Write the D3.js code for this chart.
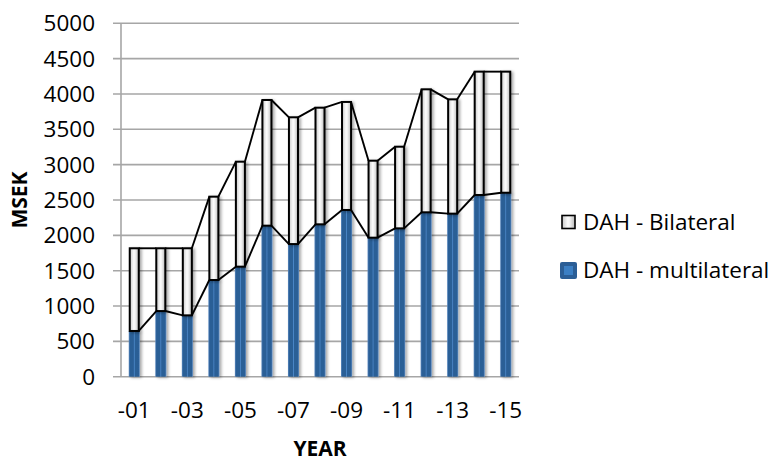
<!DOCTYPE html>
<html><head><meta charset="utf-8">
<script src="https://cdn.jsdelivr.net/npm/d3@7"></script>
<style>
html,body{margin:0;padding:0;background:#fff;}
svg{display:block;font-family:"Open Sans",sans-serif;}
</style></head>
<body>
<svg id="c" width="778" height="461"></svg>
<script>
const years = ["2001","2002","2003","2004","2005","2006","2007","2008","2009","2010","2011","2012","2013","2014","2015"];
const tickLabels = ["-01","","-03","","-05","","-07","","-09","","-11","","-13","","-15"];
const multilateral = [647, 929, 868, 1368, 1557, 2137, 1877, 2156, 2359, 1967, 2099, 2326, 2307, 2571, 2603];
const bilateral = [1170, 888, 949, 1179, 1485, 1778, 1793, 1650, 1528, 1089, 1155, 1740, 1617, 1745, 1713];
const yTicks = [0,500,1000,1500,2000,2500,3000,3500,4000,4500,5000];
const seriesNames = ["DAH - Bilateral","DAH - multilateral"];

const svg = d3.select("#c");
const pLeft = 121, pRight = 519, pTop = 23.3, pBottom = 376.7;
const x = d3.scaleBand().domain(years).range([pLeft, pRight]).paddingInner(0).paddingOuter(0);
const y = d3.scaleLinear().domain([0, 5000]).range([pBottom, pTop]);
const bw = x.bandwidth() * 0.34;

const defs = svg.append("defs");
const gB = defs.append("linearGradient").attr("id","gB").attr("x1","0").attr("x2","1").attr("y1","0").attr("y2","0");
[["0","#c8c8c8"],["0.45","#fbfbfb"],["0.6","#f2f2f2"],["1","#b8b8b8"]].forEach(s=>gB.append("stop").attr("offset",s[0]).attr("stop-color",s[1]));
const gM = defs.append("linearGradient").attr("id","gM").attr("x1","0").attr("x2","1").attr("y1","0").attr("y2","0");
[["0","#5d8cc2"],["0.12","#2b5e96"],["0.42","#2b5e96"],["0.5","#4a86c6"],["0.58","#2b5e96"],["0.88","#2b5e96"],["1","#5d8cc2"]].forEach(s=>gM.append("stop").attr("offset",s[0]).attr("stop-color",s[1]));
const sh = defs.append("filter").attr("id","sh").attr("x","-50%").attr("y","-10%").attr("width","200%").attr("height","120%");
sh.append("feGaussianBlur").attr("in","SourceAlpha").attr("stdDeviation",1.6).attr("result","b");
sh.append("feOffset").attr("in","b").attr("dx",2).attr("dy",1).attr("result","o");
sh.append("feComponentTransfer").attr("in","o").attr("result","o2").append("feFuncA").attr("type","linear").attr("slope",0.35);
const mg = sh.append("feMerge"); mg.append("feMergeNode").attr("in","o2"); mg.append("feMergeNode").attr("in","SourceGraphic");

// grid
const grid = "#a6a6a6";
svg.append("g").selectAll("line").data(yTicks).join("line")
  .attr("x1", pLeft-8).attr("x2", pRight).attr("y1", d=>y(d)).attr("y2", d=>y(d))
  .attr("stroke", grid).attr("stroke-width", 1.6);
svg.append("line").attr("x1",pLeft).attr("x2",pLeft).attr("y1",pTop).attr("y2",pBottom)
  .attr("stroke",grid).attr("stroke-width",1.6);

// y tick labels
svg.append("g").selectAll("text").data(yTicks).join("text")
  .attr("x", 95).attr("y", d=>y(d)).attr("dy","0.35em").attr("text-anchor","end")
  .attr("font-size", 22.5).attr("fill","#000").text(d=>d);

// x tick labels
svg.append("g").selectAll("text").data(years).join("text")
  .attr("x", d=>x(d)+x.bandwidth()/2).attr("y", 418).attr("text-anchor","middle")
  .attr("font-size", 22.5).attr("fill","#000").text((d,i)=>tickLabels[i]);

// multilateral bars
svg.append("g").attr("filter","url(#sh)").selectAll("rect").data(years).join("rect")
  .attr("x", d=>x(d)+x.bandwidth()/2 - bw/2 - 1).attr("width", bw+2)
  .attr("y", (d,i)=>y(multilateral[i])).attr("height",(d,i)=>y(0)-y(multilateral[i]))
  .attr("fill","url(#gM)");

// bilateral bars
svg.append("g").attr("filter","url(#sh)").selectAll("rect").data(years).join("rect")
  .attr("x", d=>x(d)+x.bandwidth()/2 - bw/2).attr("width", bw)
  .attr("y", (d,i)=>y(multilateral[i]+bilateral[i])).attr("height",(d,i)=>y(multilateral[i])-y(multilateral[i]+bilateral[i]))
  .attr("fill","url(#gB)").attr("stroke","#000").attr("stroke-width",2);

// series lines
function seriesLine(vals){
  const segs = [];
  for(let i=0;i<years.length-1;i++){
    segs.push([x(years[i])+x.bandwidth()/2+bw/2, y(vals[i]), x(years[i+1])+x.bandwidth()/2-bw/2, y(vals[i+1])]);
  }
  svg.append("g").selectAll("line").data(segs).join("line")
    .attr("x1",d=>d[0]).attr("y1",d=>d[1]).attr("x2",d=>d[2]).attr("y2",d=>d[3])
    .attr("stroke","#000").attr("stroke-width",1.9);
}
seriesLine(multilateral);
seriesLine(multilateral.map((m,i)=>m+bilateral[i]));

// axis titles
svg.append("text").attr("transform","translate(27,200) rotate(-90)").attr("text-anchor","middle")
  .attr("font-size",21).attr("font-weight","bold").text("MSEK");
svg.append("text").attr("x",(pLeft+pRight)/2).attr("y",456).attr("text-anchor","middle")
  .attr("font-size",21).attr("font-weight","bold").text("YEAR");

// legend
const lg = svg.append("g");
lg.append("rect").attr("x",562).attr("y",215.5).attr("width",13).attr("height",13)
  .attr("fill","url(#gB)").attr("stroke","#000").attr("stroke-width",1.6);
lg.append("text").attr("x",583).attr("y",230).attr("font-size",22.5).text(seriesNames[0]);
lg.append("rect").attr("x",560).attr("y",262).attr("width",17).attr("height",17).attr("rx",2)
  .attr("fill","#2b5e96");
lg.append("rect").attr("x",564).attr("y",266).attr("width",9).attr("height",9)
  .attr("fill","#3b7fc4");
lg.append("text").attr("x",583).attr("y",278).attr("font-size",22.5).text(seriesNames[1]);
</script>
</body></html>
